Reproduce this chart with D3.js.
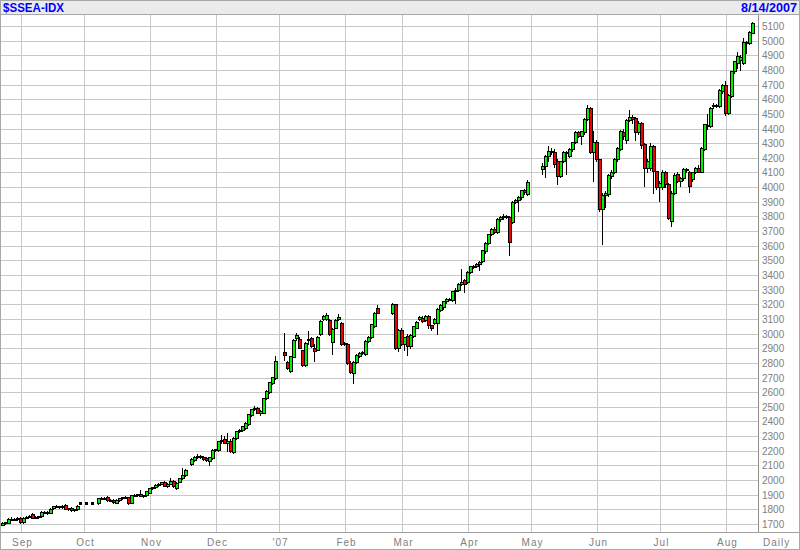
<!DOCTYPE html>
<html><head><meta charset="utf-8">
<script src="https://cdn.jsdelivr.net/npm/d3@7"></script>
<style>body{margin:0;background:#fff}svg{display:block}</style>
</head><body>
<svg id="c" width="800" height="550"></svg>
<script>
// ---------- DATA ----------
const title = "$SSEA-IDX";
const dateLabel = "8/14/2007";
const monthLabels = ["Sep","Oct","Nov","Dec","'07","Feb","Mar","Apr","May","Jun","Jul","Aug"];
const monthSlots  = [6, 27, 49, 71, 92, 114, 133, 155, 176, 198, 219, 241];
const yTicks = [1700,1800,1900,2000,2100,2200,2300,2400,2500,2600,2700,2800,2900,3000,3100,3200,3300,3400,3500,3600,3700,3800,3900,4000,4100,4200,4300,4400,4500,4600,4700,4800,4900,5000,5100];
// start slot of every run of consecutive daily bars (gaps = holidays)
const runStarts = [0, 28, 30, 32, 63, 94, 130, 180];
// [open, high, low, close]
const run0 = [
[1695,1712,1690,1706],[1706,1716,1700,1712],[1710,1738,1706,1731],[1731,1745,1725,1734],[1734,1740,1726,1737],
[1737,1748,1730,1742],[1742,1748,1708,1712],[1712,1745,1708,1741],[1741,1755,1738,1750],[1750,1762,1746,1756],
[1770,1775,1740,1742],[1742,1752,1738,1748],[1748,1758,1744,1752],[1752,1786,1750,1782],[1782,1790,1776,1784],
[1784,1788,1770,1776],[1776,1808,1772,1805],[1808,1826,1804,1820],[1820,1828,1814,1822],[1822,1826,1810,1816],
[1816,1832,1812,1826],[1832,1836,1800,1805],[1805,1812,1798,1806],[1810,1814,1790,1793],[1793,1804,1790,1800],
[1800,1830,1798,1826],[1840,1840,1840,1840]];
const run1 = [[1840,1840,1840,1840]];
const run2 = [[1840,1840,1840,1840]];
const run3 = [
[1840,1880,1838,1876],[1876,1886,1870,1880],[1880,1885,1868,1874],[1882,1888,1858,1862],[1862,1870,1855,1866],
[1866,1870,1846,1850],[1845,1870,1840,1866],[1866,1880,1860,1876],[1876,1886,1872,1882],[1882,1890,1876,1884],
[1882,1886,1838,1842],[1842,1898,1840,1895],[1895,1908,1890,1900],[1900,1906,1893,1902],[1907,1935,1888,1891],
[1891,1900,1885,1896],[1896,1928,1894,1922],[1914,1946,1910,1943],[1943,1956,1938,1950],[1952,1972,1948,1968],
[1968,1982,1962,1976],[1976,1990,1970,1984],[1988,1994,1958,1962],[1962,1978,1956,1974],[1974,2012,1970,1992],
[1993,1998,1956,1960],[1948,1984,1936,1980],[1988,2016,1984,2012],[2012,2080,2008,2036],[2034,2078,2028,2072]];
const run4 = [
[2107,2148,2100,2143],[2140,2165,2132,2160],[2160,2180,2150,2165],[2165,2170,2150,2157],[2158,2165,2138,2142],
[2150,2156,2130,2135],[2128,2158,2100,2155],[2150,2210,2146,2207],[2207,2214,2198,2209],[2202,2268,2198,2264],
[2264,2305,2256,2272],[2283,2300,2250,2253],[2255,2319,2195,2266],[2270,2280,2190,2195],[2190,2292,2185,2287],
[2287,2338,2280,2333],[2333,2348,2326,2340],[2340,2372,2334,2368],[2356,2394,2350,2390],[2380,2452,2376,2448],
[2444,2486,2438,2483],[2483,2505,2476,2494],[2494,2500,2455,2460],[2455,2475,2444,2471],[2460,2562,2455,2558],
[2563,2615,2555,2609],[2600,2672,2596,2667],[2662,2706,2656,2701],[2697,2845,2692,2816]];
const run5 = [
[2874,3002,2823,2851],[2805,2812,2755,2765],[2742,2850,2735,2847],[2842,2962,2838,2956],[2970,3005,2958,2988],
[2963,2975,2900,2905],[2886,2890,2780,2788],[2784,2940,2778,2935],[2955,3020,2930,2963],[2967,2975,2910,2916],
[2900,2930,2812,2881],[2891,2985,2885,2979],[2998,3090,2990,3086],[3100,3130,3095,3118],[3100,3140,3092,3130],
[3095,3100,2990,2998],[2940,3040,2858,3033],[3040,3100,3035,3095],[3100,3135,3095,3110],[3074,3080,2920,2928],
[2935,2945,2920,2928],[2928,2935,2795,2800],[2800,2810,2730,2735],[2730,2812,2660,2807],[2807,2858,2800,2853],
[2846,2875,2840,2870],[2872,2880,2862,2866],[2858,2955,2852,2951],[2946,2985,2940,2979],[2974,3068,2970,3063],
[3049,3150,3045,3142],[3172,3195,3138,3142]];
const run6 = [
[3142,3206,3135,3202],[3202,3204,2895,2900],[2900,3030,2880,3026],[3026,3035,2920,2928],[2930,2980,2890,2975],
[2984,2995,2857,2915],[2915,3000,2905,2990],[2985,3055,2975,3050],[3041,3085,3035,3080],[3100,3122,3095,3116],
[3109,3118,3080,3086],[3091,3125,3085,3120],[3120,3124,3040,3057],[3057,3062,3023,3041],[3073,3108,3065,3102],
[3073,3175,3000,3170],[3160,3205,3155,3198],[3182,3225,3165,3220],[3220,3240,3212,3234],[3234,3245,3228,3238],
[3227,3292,3222,3289],[3289,3310,3211,3300],[3295,3345,3290,3340],[3340,3443,3330,3355],[3363,3370,3284,3340],
[3352,3425,3345,3420],[3420,3462,3415,3459],[3459,3470,3450,3462],[3462,3480,3455,3475],[3475,3495,3436,3490],
[3495,3572,3490,3568],[3563,3622,3550,3618],[3618,3682,3610,3677],[3677,3720,3670,3716],[3716,3725,3685,3693],
[3693,3790,3688,3784],[3784,3800,3770,3795],[3795,3818,3785,3800],[3800,3812,3790,3798],[3795,3800,3534,3625],
[3761,3902,3755,3898],[3898,3920,3890,3910],[3910,3940,3840,3930],[3932,3982,3920,3977],[3977,3985,3950,3965],
[3950,4050,3945,4034]];
const run7 = [
[4127,4168,4089,4145],[4145,4218,4066,4214],[4214,4282,4180,4248],[4245,4270,4225,4238],[4241,4260,4140,4157],
[4180,4190,4020,4073],[4073,4180,4068,4175],[4175,4245,4170,4241],[4241,4250,4089,4235],[4214,4265,4205,4259],
[4259,4310,4250,4305],[4305,4380,4300,4373],[4373,4385,4340,4350],[4350,4385,4293,4380],[4373,4470,4365,4464],
[4464,4560,4458,4543],[4543,4548,4230,4241],[4240,4384,4043,4305],[4305,4320,4180,4190],[4190,4195,3840,3850],
[3850,3960,3610,3948],[3945,3975,3861,3962],[3952,4090,3940,4082],[4077,4115,4060,4105],[4105,4200,4095,4190],
[4190,4275,4180,4266],[4260,4390,4255,4380],[4375,4395,4330,4350],[4322,4465,4300,4457],[4457,4527,4450,4480],
[4480,4495,4440,4462],[4475,4480,4320,4373],[4373,4450,4360,4440],[4440,4445,4270,4289],[4293,4300,4010,4130],
[4130,4190,4100,4175],[4130,4300,4120,4282],[4282,4290,3960,4107],[4107,4110,3990,4000],[4000,4040,3906,4030],
[4000,4115,3990,4100],[4100,4110,4000,4020],[4020,4025,3780,3786],[3768,3975,3736,3963],[3963,4095,3950,4085],
[4090,4100,4035,4045],[4045,4070,4009,4065],[4059,4128,4050,4122],[4122,4133,4105,4115],[4105,4110,3968,4005],
[4054,4105,4040,4100],[4100,4140,4095,4133],[4133,4150,4100,4105],[4105,4275,4100,4269],[4262,4432,4255,4428],
[4425,4502,4400,4416],[4416,4545,4410,4541],[4552,4575,4540,4563],[4563,4570,4548,4555],[4552,4670,4545,4665],
[4654,4705,4645,4700],[4700,4722,4495,4507],[4507,4635,4500,4631],[4620,4795,4615,4790],[4790,4862,4780,4858],
[4846,4925,4815,4892],[4870,4905,4800,4890],[4846,5016,4840,4994],[4994,5000,4914,4985],[4982,5068,4975,5062],
[5055,5130,5050,5118]];
const runs = [run0, run1, run2, run3, run4, run5, run6, run7];

// ---------- BUILD ----------
const bars = [];
runs.forEach((r, k) => r.forEach((d, j) => bars.push({slot: runStarts[k] + j, o: d[0], h: d[1], l: d[2], c: d[3]})));

const W = 800, H = 550;
const plotR = 758, plotT = 15, plotB = 532;
const svg = d3.select("#c");
const x = d3.scaleLinear().domain([0, 250]).range([3, 753]);
const y = d3.scaleLinear().domain([1700, 5100]).range([524, 26]);
const px = v => Math.round(v) + 0.5;

svg.append("rect").attr("width", W).attr("height", H).attr("fill", "#fff");

// header
svg.append("rect").attr("x", 0).attr("y", 0).attr("width", W).attr("height", 14).attr("fill", "#ebebeb");
svg.append("line").attr("x1", 0).attr("x2", W).attr("y1", 14.5).attr("y2", 14.5).attr("stroke", "#a8a8a8");
svg.append("text").attr("x", 3).attr("y", 12).text(title)
  .attr("font-family", "Liberation Sans Narrow, Liberation Sans, Arial, sans-serif")
  .attr("font-weight", "bold").attr("font-size", 13).attr("fill", "#0000ff")
  .attr("textLength", 61).attr("lengthAdjust", "spacingAndGlyphs");
svg.append("text").attr("x", 797).attr("y", 12).attr("text-anchor", "end").text(dateLabel)
  .attr("font-family", "Liberation Sans Narrow, Liberation Sans, Arial, sans-serif")
  .attr("font-weight", "bold").attr("font-size", 13).attr("fill", "#0000ff")
  .attr("textLength", 56).attr("lengthAdjust", "spacingAndGlyphs");

// grid
const grid = svg.append("g");
grid.selectAll("line.h").data(yTicks).join("line").attr("class", "h")
  .attr("x1", 0).attr("x2", plotR).attr("y1", d => px(y(d))).attr("y2", d => px(y(d)))
  .attr("stroke", "#c8c8c8");
grid.selectAll("line.v").data(monthSlots).join("line").attr("class", "v")
  .attr("x1", d => px(x(d))).attr("x2", d => px(x(d))).attr("y1", plotT).attr("y2", plotB)
  .attr("stroke", "#c8c8c8");

// axes (labels via d3 axis)
const yAxis = d3.axisRight(y).tickValues(yTicks).tickSize(0).tickPadding(0).tickFormat(d3.format("d"));
const gy = svg.append("g").attr("transform", `translate(${plotR + 4},0)`).call(yAxis);
gy.select(".domain").remove();
gy.selectAll("text").attr("font-family", "Liberation Sans, Arial, sans-serif").attr("font-size", 10)
  .attr("fill", "#808080").attr("dy", "0.35em");

const xAxis = d3.axisBottom(x).tickValues(monthSlots).tickSize(0).tickPadding(0)
  .tickFormat((d, i) => monthLabels[i]);
const gx = svg.append("g").attr("transform", `translate(1,${plotB})`).call(xAxis);
gx.select(".domain").remove();
gx.selectAll("text").attr("font-family", "Liberation Sans, Arial, sans-serif").attr("font-size", 10)
  .attr("fill", "#808080").attr("letter-spacing", 1).attr("dy", 0).attr("y", 14);
svg.append("text").attr("x", 763).attr("y", plotB + 14).text("Daily")
  .attr("font-family", "Liberation Sans, Arial, sans-serif").attr("font-size", 10)
  .attr("fill", "#808080").attr("letter-spacing", 1);

// axis lines & border
svg.append("line").attr("x1", px(plotR)).attr("x2", px(plotR)).attr("y1", plotT).attr("y2", plotB).attr("stroke", "#909090");
svg.append("line").attr("x1", 0).attr("x2", W).attr("y1", px(plotB)).attr("y2", px(plotB)).attr("stroke", "#a0a0a0");
svg.append("rect").attr("x", 0.5).attr("y", 0.5).attr("width", W - 1).attr("height", H - 1)
  .attr("fill", "none").attr("stroke", "#a8a8a8");

// candles
const flat = d => d.o === d.h && d.h === d.l && d.l === d.c;
const cg = svg.append("g");
cg.selectAll("line.w").data(bars.filter(d => !flat(d))).join("line").attr("class", "w")
  .attr("x1", d => Math.round(x(d.slot)) - 0.5).attr("x2", d => Math.round(x(d.slot)) - 0.5)
  .attr("y1", d => Math.round(y(d.h))).attr("y2", d => Math.round(y(d.l)) + 1)
  .attr("stroke", "#000");
cg.selectAll("rect.b").data(bars.filter(d => !flat(d))).join("rect").attr("class", "b")
  .attr("x", d => Math.round(x(d.slot)) - 1.5)
  .attr("y", d => px(y(Math.max(d.o, d.c))))
  .attr("width", 3)
  .attr("height", d => Math.max(1, Math.round(y(Math.min(d.o, d.c))) - Math.round(y(Math.max(d.o, d.c)))))
  .attr("fill", d => d.c > d.o ? "#00f000" : (d.c < d.o ? "#f00000" : "#000"))
  .attr("stroke", "#000").attr("stroke-width", 1);
// unchanged (holiday) days: small square dots
cg.selectAll("rect.dot").data(bars.filter(flat)).join("rect").attr("class", "dot")
  .attr("x", d => Math.round(x(d.slot)) - 2)
  .attr("y", d => Math.round(y(d.c)) - 1)
  .attr("width", 3).attr("height", 3).attr("fill", "#000");
</script>
</body></html>
